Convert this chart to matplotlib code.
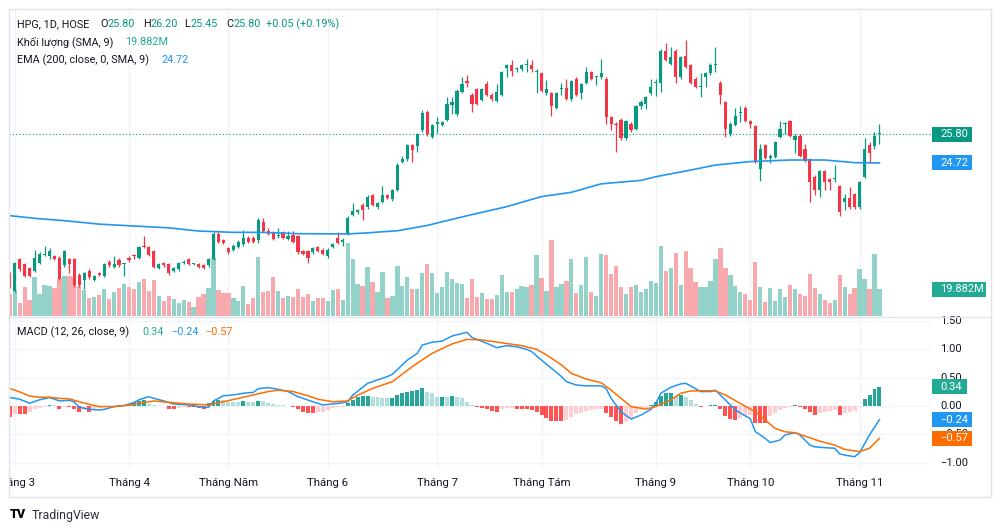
import numpy as np
import pandas as pd
import matplotlib
matplotlib.use("Agg")
import matplotlib.pyplot as plt
import matplotlib.transforms as mtransforms
from matplotlib.patches import Rectangle
from matplotlib.text import Annotation

plt.rcParams['font.family'] = ['Roboto', 'DejaVu Sans']

# ngày giao dịch HOSE 28/02 - 07/11/2023 (bỏ ngày nghỉ lễ)
holidays = ['2023-05-01', '2023-05-02', '2023-05-03', '2023-09-01', '2023-09-04']
dates = pd.bdate_range('2023-02-28', '2023-11-07').drop(pd.to_datetime(holidays))
month_labels = ['Tháng 3', 'Tháng 4', 'Tháng Năm', 'Tháng 6', 'Tháng 7',
                'Tháng Tám', 'Tháng 9', 'Tháng 10', 'Tháng 11']

# giá HPG (nghìn đồng)
opens = [20.55, 19.90, 21.10, 20.90, 20.75, 20.65, 20.95, 21.25, 21.20, 21.20,
         21.15, 20.85, 21.10, 21.10, 20.50, 20.30, 20.65, 20.30, 20.55, 20.45,
         21.00, 20.80, 21.05, 20.90, 21.15, 21.25, 21.15, 21.60, 21.55, 21.40,
         20.75, 20.95, 20.90, 20.65, 20.70, 20.95, 21.10, 20.90, 20.90, 20.85,
         20.85, 21.10, 22.05, 21.80, 21.50, 21.45, 21.55, 21.65, 21.90, 21.90,
         21.80, 22.50, 22.15, 22.10, 21.95, 22.10, 21.85, 22.00, 21.95, 21.40,
         21.40, 21.35, 21.55, 21.45, 21.20, 21.55, 21.90, 21.75, 22.05, 22.75,
         22.85, 23.15, 23.05, 23.50, 23.05, 23.25, 23.50, 23.35, 23.70, 24.75,
         24.85, 25.40, 25.35, 25.95, 26.65, 25.70, 26.20, 26.15, 26.35, 26.90,
         26.55, 27.40, 27.80, 27.30, 27.50, 27.10, 27.70, 27.30, 27.05, 27.30,
         28.30, 28.40, 28.25, 28.25, 28.40, 28.40, 28.15, 28.10, 27.35, 27.35,
         26.80, 27.50, 27.55, 27.15, 27.90, 27.35, 27.75, 28.15, 27.95, 27.95,
         27.90, 26.45, 26.20, 26.35, 25.65, 26.20, 26.00, 26.85, 26.95, 27.35,
         27.75, 27.75, 28.95, 28.45, 28.95, 27.95, 28.75, 28.40, 27.90, 27.60,
         27.95, 28.10, 28.40, 27.75, 27.00, 25.80, 26.15, 26.60, 26.80, 26.30,
         26.10, 24.50, 25.40, 24.90, 24.95, 25.70, 26.20, 26.30, 25.60, 25.75,
         25.25, 24.85, 24.20, 23.70, 24.40, 24.10, 24.10, 23.85, 23.25, 23.40,
         23.55, 23.05, 24.20, 25.40, 25.35, 25.80]
highs = [20.60, 21.00, 21.15, 20.95, 20.80, 21.45, 21.35, 21.60, 21.50, 21.25,
         21.20, 21.45, 21.15, 21.15, 20.55, 20.60, 20.70, 20.50, 20.60, 20.95,
         21.05, 21.20, 21.15, 20.95, 21.20, 21.30, 21.60, 21.95, 21.60, 21.45,
         20.95, 21.00, 20.95, 20.80, 21.00, 21.05, 21.15, 20.95, 20.95, 20.90,
         21.15, 22.10, 22.10, 21.85, 21.55, 21.65, 21.80, 22.20, 21.95, 21.95,
         22.65, 22.65, 22.25, 22.15, 22.25, 22.15, 22.15, 22.15, 22.00, 21.45,
         21.45, 21.55, 21.60, 21.50, 21.50, 21.70, 22.10, 21.90, 22.70, 23.20,
         23.00, 23.20, 23.50, 23.55, 23.25, 23.85, 23.55, 23.75, 24.70, 25.00,
         25.45, 25.45, 25.85, 26.70, 26.70, 26.20, 26.45, 26.30, 27.20, 27.20,
         27.50, 27.95, 28.05, 27.35, 27.55, 27.55, 27.80, 27.35, 27.70, 28.20,
         28.45, 28.60, 28.35, 28.45, 28.65, 28.60, 28.25, 28.15, 27.85, 27.40,
         27.40, 27.75, 27.90, 27.85, 27.95, 27.75, 28.35, 28.20, 28.00, 28.65,
         27.95, 26.50, 26.25, 26.40, 26.35, 26.25, 26.90, 27.10, 27.25, 27.90,
         27.90, 29.00, 29.25, 29.10, 29.00, 28.75, 29.35, 28.45, 27.95, 28.10,
         28.15, 28.50, 29.10, 27.80, 27.05, 26.25, 26.80, 26.85, 26.85, 26.35,
         26.15, 25.45, 25.45, 25.05, 25.55, 26.30, 26.25, 26.35, 25.80, 25.80,
         25.45, 24.90, 24.25, 24.45, 24.45, 24.15, 24.65, 23.90, 23.55, 23.80,
         23.60, 24.05, 25.65, 25.50, 25.90, 26.20]
lows = [20.00, 19.85, 20.65, 20.40, 20.40, 20.60, 20.90, 21.20, 21.10, 21.05,
        20.30, 20.80, 20.55, 20.05, 20.05, 19.95, 20.35, 20.25, 20.45, 20.40,
        20.80, 20.75, 20.80, 20.45, 21.00, 21.10, 21.10, 21.50, 21.20, 20.75,
        20.70, 20.80, 20.50, 20.60, 20.65, 20.90, 20.85, 20.85, 20.75, 20.70,
        20.80, 21.05, 21.70, 21.65, 21.30, 21.40, 21.50, 21.60, 21.70, 21.70,
        21.70, 22.10, 22.00, 21.80, 21.90, 21.85, 21.80, 21.70, 21.30, 21.25,
        20.95, 21.30, 21.35, 21.25, 21.15, 21.50, 21.65, 21.60, 22.00, 22.70,
        22.80, 22.55, 23.00, 23.10, 23.00, 23.20, 23.35, 23.30, 23.65, 24.70,
        24.80, 24.75, 25.15, 25.90, 25.75, 25.65, 25.85, 26.10, 26.30, 26.55,
        26.50, 27.35, 27.60, 26.65, 26.90, 27.05, 27.25, 27.05, 27.00, 27.25,
        27.95, 28.00, 28.15, 28.20, 28.15, 28.15, 27.35, 27.40, 27.30, 26.50,
        26.75, 27.30, 27.10, 27.05, 27.25, 27.15, 27.70, 27.85, 27.65, 27.90,
        26.20, 25.95, 25.15, 25.60, 25.60, 25.90, 25.95, 26.75, 26.75, 27.30,
        27.25, 27.40, 28.55, 28.40, 27.75, 27.90, 28.30, 27.70, 27.55, 27.20,
        27.60, 28.05, 28.15, 26.95, 25.70, 25.75, 26.10, 26.25, 26.25, 26.05,
        24.70, 24.05, 24.85, 24.70, 24.90, 25.65, 25.80, 25.70, 25.10, 24.95,
        24.75, 23.25, 23.50, 23.45, 23.70, 23.70, 24.00, 22.70, 22.95, 23.00,
        23.00, 23.00, 24.15, 24.75, 25.25, 25.45]
closes = [20.05, 20.95, 20.70, 20.45, 20.45, 21.15, 21.30, 21.30, 21.40, 21.10,
          20.35, 21.40, 20.90, 20.10, 20.10, 20.55, 20.40, 20.45, 20.50, 20.90,
          20.85, 20.90, 20.85, 20.90, 21.05, 21.20, 21.55, 21.55, 21.25, 20.80,
          20.90, 20.85, 20.55, 20.75, 20.95, 21.00, 20.90, 20.90, 20.80, 20.75,
          21.10, 22.05, 21.75, 21.70, 21.35, 21.60, 21.75, 21.90, 21.75, 21.75,
          22.55, 22.15, 22.05, 21.85, 21.95, 21.90, 21.95, 21.75, 21.35, 21.30,
          21.15, 21.50, 21.40, 21.30, 21.45, 21.65, 21.70, 21.80, 22.65, 22.90,
          22.95, 22.95, 23.45, 23.15, 23.20, 23.50, 23.40, 23.70, 24.65, 24.85,
          25.40, 25.20, 25.80, 26.60, 25.80, 26.15, 26.25, 26.25, 26.95, 27.00,
          27.45, 27.70, 27.75, 26.95, 26.95, 27.50, 27.30, 27.15, 27.40, 28.15,
          28.40, 28.20, 28.25, 28.40, 28.40, 28.25, 28.15, 27.45, 27.50, 26.85,
          27.35, 27.50, 27.15, 27.80, 27.30, 27.70, 28.15, 27.90, 27.95, 28.10,
          26.45, 26.20, 26.15, 25.65, 26.30, 25.95, 26.85, 27.00, 27.20, 27.60,
          27.75, 28.95, 28.60, 28.70, 27.95, 28.70, 28.35, 27.75, 27.60, 27.60,
          28.10, 28.40, 28.40, 27.30, 26.00, 26.20, 26.50, 26.60, 26.30, 26.20,
          24.75, 25.25, 24.90, 25.00, 25.50, 26.00, 26.20, 25.75, 25.75, 25.00,
          24.80, 24.00, 23.70, 24.40, 24.00, 24.00, 24.10, 22.85, 23.40, 23.05,
          23.05, 24.00, 25.25, 25.10, 25.75, 25.80]
# khối lượng (triệu cp)
volumes = [16.1, 19.4, 9.9, 21.4, 11.9, 29.3, 16.1, 23.1, 22.3, 20.9,
           28.1, 29.8, 29.8, 29.3, 22.3, 19.4, 13.2, 14.4, 15.6, 20.1,
           12.7, 18.1, 20.9, 23.8, 21.4, 20.1, 25.6, 27.6, 18.9, 26.6,
           14.6, 11.4, 14.6, 12.9, 9.9, 11.9, 10.4, 7.0, 13.9, 16.4,
           20.9, 43.0, 19.4, 16.9, 16.9, 13.2, 11.4, 22.3, 8.9, 13.7,
           44.2, 17.6, 18.6, 28.8, 18.6, 13.2, 15.1, 14.4, 20.1, 13.9,
           16.1, 11.2, 13.7, 13.7, 11.2, 19.4, 20.1, 11.9, 54.1, 42.2,
           23.8, 22.3, 36.3, 25.6, 17.6, 32.5, 13.7, 14.9, 37.5, 22.6,
           29.3, 20.1, 19.9, 31.8, 38.5, 32.3, 17.4, 21.9, 33.0, 27.6,
           24.8, 23.8, 13.2, 27.5, 14.3, 16.9, 12.7, 12.7, 15.6, 30.5,
           18.1, 17.6, 20.1, 22.6, 21.4, 22.8, 45.4, 28.1, 18.6, 56.9,
           21.6, 23.8, 26.1, 42.2, 17.1, 23.1, 43.9, 18.1, 15.1, 45.9,
           45.4, 31.0, 37.0, 21.6, 16.6, 21.6, 22.8, 18.1, 20.1, 25.8,
           24.3, 51.9, 33.5, 35.5, 46.7, 22.8, 48.4, 35.5, 25.3, 21.4,
           21.6, 26.3, 42.2, 50.4, 36.0, 30.5, 22.3, 17.9, 16.1, 11.9,
           40.2, 21.4, 10.4, 20.9, 11.4, 20.1, 14.4, 22.8, 20.1, 16.1,
           15.1, 31.0, 20.9, 16.6, 11.9, 9.9, 11.9, 30.5, 21.6, 16.1,
           20.9, 35.0, 27.6, 20.1, 46.2, 19.882]

# EMA 200 (chỉ số phiên, giá trị)
ema_bar = [0, 5, 11, 18, 25, 32, 38, 45, 51, 58, 68, 71, 78, 84, 87, 91, 93, 100,
           107, 113, 119, 127, 130, 137, 142, 149, 157, 164, 170, 175]
ema_val = [22.73, 22.63, 22.54, 22.41, 22.34, 22.27, 22.15, 22.10, 22.10, 22.05,
           22.04, 22.07, 22.16, 22.36, 22.50, 22.68, 22.77, 23.07, 23.45, 23.61,
           23.93, 24.06, 24.20, 24.45, 24.64, 24.77, 24.83, 24.83, 24.73, 24.72]

# MACD (12, 26, close, 9)
macd_bar = [0, 2, 4, 6, 8, 10, 12, 13, 14, 16, 18, 19, 21, 23, 25, 26, 28, 29, 31, 33,
            36, 38, 40, 41, 43, 45, 47, 49, 50, 52, 54, 56, 58, 61, 63, 66, 68, 69, 72, 74,
            76, 77, 80, 82, 83, 85, 87, 89, 92, 93, 96, 98, 100, 102, 104, 105, 107, 109,
            111, 112, 114, 116, 119, 120, 121, 123, 125, 127, 129, 130, 131, 133, 135, 136,
            137, 139, 141, 142, 144, 146, 148, 149, 150, 152, 153, 155, 156, 158, 159, 161,
            162, 164, 166, 167, 168, 170, 171, 173, 175]
macd_val = [0.15, 0.12, 0.05, 0.11, 0.15, 0.09, 0.10, 0.07, -0.02, -0.06,
            -0.07, -0.06, -0.01, 0.01, 0.06, 0.11, 0.165, 0.135, 0.09, 0.035,
            0.02, -0.01, -0.025, 0.09, 0.18, 0.195, 0.225, 0.24, 0.305, 0.325,
            0.295, 0.255, 0.165, 0.075, 0.02, 0.045, 0.075, 0.19, 0.40, 0.46,
            0.52, 0.56, 0.81, 0.93, 1.075, 1.125, 1.145, 1.235, 1.30, 1.21,
            1.105, 1.03, 1.065, 1.045, 1.0, 0.96, 0.81, 0.665, 0.52, 0.43,
            0.37, 0.355, 0.355, 0.31, 0.135, -0.10, -0.23, -0.16, -0.06, 0.045,
            0.225, 0.33, 0.39, 0.40, 0.355, 0.255, 0.255, 0.28, 0.105, -0.07,
            -0.175, -0.22, -0.45, -0.57, -0.645, -0.60, -0.51, -0.47, -0.51, -0.69,
            -0.72, -0.735, -0.745, -0.845, -0.865, -0.895, -0.825, -0.51, -0.24]
signal_bar = [0, 2, 4, 6, 8, 10, 12, 14, 16, 18, 21, 23, 26, 29, 32, 36, 40, 44, 46, 49,
              52, 54, 57, 60, 62, 65, 68, 70, 73, 77, 81, 85, 89, 92, 95, 99, 103, 106,
              108, 111, 113, 116, 119, 121, 123, 125, 128, 130, 133, 135, 137, 140, 142,
              144, 147, 150, 152, 154, 156, 158, 160, 163, 166, 168, 171, 173, 175]
signal_val = [0.31, 0.25, 0.175, 0.155, 0.155, 0.135, 0.125, 0.075, 0.03, -0.01,
              -0.01, 0.005, 0.045, 0.09, 0.065, 0.035, 0.02, 0.095, 0.135, 0.195,
              0.255, 0.28, 0.255, 0.18, 0.12, 0.075, 0.09, 0.19, 0.31, 0.43,
              0.695, 0.93, 1.095, 1.175, 1.165, 1.115, 1.065, 1.0, 0.90, 0.725,
              0.575, 0.475, 0.41, 0.28, 0.135, -0.01, -0.055, -0.01, 0.105, 0.225,
              0.265, 0.27, 0.265, 0.195, 0.045, -0.10, -0.245, -0.395, -0.455, -0.47,
              -0.53, -0.62, -0.69, -0.765, -0.805, -0.745, -0.57]
hist = [-0.19, -0.14, -0.14, -0.14, -0.10, -0.06, -0.03, -0.01, 0.02, 0.02,
        -0.05, -0.01, -0.02, -0.06, -0.11, -0.07, -0.10, -0.06, -0.03, -0.01,
        0.00, 0.00, 0.02, 0.02, 0.035, 0.075, 0.095, 0.105, 0.035, 0.01,
        0.00, 0.00, -0.045, -0.045, -0.035, -0.025, -0.025, -0.025, -0.035, -0.045,
        0.045, 0.095, 0.105, 0.105, 0.075, 0.075, 0.075, 0.095, 0.075, 0.075,
        0.095, 0.09, 0.045, 0.03, 0.025, 0.01, 0.005, -0.025, -0.06, -0.10,
        -0.12, -0.12, -0.11, -0.10, -0.07, -0.04, -0.025, -0.01, 0.06, 0.105,
        0.155, 0.175, 0.18, 0.165, 0.155, 0.15, 0.135, 0.15, 0.195, 0.225,
        0.255, 0.27, 0.28, 0.31, 0.255, 0.225, 0.16, 0.165, 0.165, 0.17,
        0.16, 0.135, 0.075, 0.015, -0.01, -0.03, -0.06, -0.08, -0.10, -0.06,
        -0.04, -0.03, -0.045, -0.05, -0.06, -0.07, -0.10, -0.16, -0.22, -0.265,
        -0.265, -0.27, -0.245, -0.19, -0.14, -0.12, -0.08, -0.07, -0.06, -0.045,
        -0.13, -0.19, -0.26, -0.32, -0.275, -0.22, -0.13, -0.06, -0.04, 0.02,
        0.075, 0.175, 0.225, 0.235, 0.175, 0.195, 0.155, 0.105, 0.035, -0.025,
        0.005, 0.012, 0.013, -0.06, -0.175, -0.235, -0.24, -0.22, -0.175, -0.16,
        -0.295, -0.295, -0.30, -0.175, -0.13, -0.07, -0.04, -0.025, 0.01, -0.025,
        -0.06, -0.10, -0.16, -0.12, -0.10, -0.08, -0.07, -0.16, -0.12, -0.10,
        -0.08, -0.025, 0.125, 0.195, 0.295, 0.34]

last_change = '+0.05 (+0.19%)'
vol_last = '19.882M'
ema_last = 24.72
macd_last, signal_last, hist_last = -0.24, -0.57, 0.34

assert len(opens) == len(highs) == len(lows) == len(closes) == len(volumes) == len(hist) == len(dates)

# màu kiểu TradingView
UP, DOWN = '#089981', '#F23645'
TXT = '#131722'
GRID = '#F0F3FA'
BORDER = '#E0E3EB'
BLUE, ORANGE = '#2196F3', '#FF6D00'

W, H = 1000, 530
fig = plt.figure(figsize=(W / 100, H / 100), dpi=100, facecolor='white')


def rect(x0, y0, x1, y1):
    return [x0 / W, 1 - y1 / H, (x1 - x0) / W, (y1 - y0) / H]


def minus(s):
    return s.replace('-', '\u2212')


x = np.arange(len(dates))
o, h, l, c = map(np.array, (opens, highs, lows, closes))
up = c >= o
col = np.where(up, UP, DOWN)
# phiên đầu tiên của mỗi tháng (Tháng 3 ... Tháng 11)
month_start = [k for k in range(1, len(dates)) if dates[k].month != dates[k - 1].month]
xlim = (-0.15, 185.37)

ax_vol = fig.add_axes(rect(9, 9, 931, 317))
ax = fig.add_axes(rect(9, 9, 931, 317))
ax.set_facecolor('none')
ax_m = fig.add_axes(rect(9, 317, 931, 469))
ax_t = fig.add_axes(rect(9, 469, 931, 497))

for a in (ax_vol, ax, ax_m, ax_t):
    a.set_xlim(*xlim)
    a.set_xticks([])
    a.set_yticks([])
    for s in a.spines.values():
        s.set_visible(False)

for k in month_start:
    ax_vol.axvline(k, color=GRID, lw=1, zorder=0)
    ax_m.axvline(k, color=GRID, lw=1, zorder=0)

# khối lượng
ax_vol.set_ylim(-0.745, 228.7)
vol_col = np.where(up, '#92D2C8', '#F8A9AE')
ax_vol.bar(x, volumes, width=0.86, color=vol_col, linewidth=0, zorder=1)

# nến
ax.set_ylim(18.906, 30.528)
ax.vlines(x, l, h, colors=col, lw=0.9, zorder=2)
ax.bar(x, np.maximum(np.abs(c - o), 0.035), bottom=np.minimum(o, c), width=0.64,
       color=col, linewidth=0, zorder=3)
ax.plot(ema_bar, ema_val, color=BLUE, lw=1.2, zorder=4)
ax.axhline(closes[-1], color=UP, lw=0.8, ls=(0, (1, 2)), zorder=1)

# MACD
ax_m.set_ylim(-1.111, 1.570)
for v in (-1.0, -0.5, 0.0, 0.5, 1.0, 1.5):
    ax_m.axhline(v, color=GRID, lw=1, zorder=0)
hist_col = []
for k, hv in enumerate(hist):
    prev = hist[k - 1] if k else hv + 1
    if hv >= 0:
        hist_col.append('#26A69A' if hv > prev else '#B2DFDB')
    else:
        hist_col.append('#FFCDD2' if hv > prev else '#FF5252')
ax_m.bar(x, hist, width=0.8, color=hist_col, linewidth=0, zorder=1)
ax_m.plot(macd_bar, macd_val, color=BLUE, lw=1.1, zorder=3)
ax_m.plot(signal_bar, signal_val, color=ORANGE, lw=1.1, zorder=3)

# trục thời gian
ax_t.set_ylim(0, 1)
for k, lab in zip(month_start, month_labels):
    ax_t.text(k, 0.5, lab, ha='center', va='center', fontsize=8.2, color=TXT,
              clip_on=True)


# thang bên phải
def side_text(a, v, s, color=TXT, z=3):
    tr = mtransforms.blended_transform_factory(fig.transFigure, a.transData)
    a.text(940 / W, v, s, transform=tr, ha='left', va='center', fontsize=8,
           color=color, clip_on=False, zorder=z)


def badge(a, v, s, color, x1):
    tr = mtransforms.blended_transform_factory(fig.transFigure, a.transData)
    y0, y1 = a.get_ylim()
    hh = 15 * (y1 - y0) / a.bbox.height
    a.add_patch(Rectangle((932 / W, v - hh / 2), (x1 - 932) / W, hh, transform=tr,
                          facecolor=color, edgecolor='none', clip_on=False, zorder=5))
    side_text(a, v, s, color='white', z=6)


for v in (1.5, 1.0, 0.5, 0.0, -0.5, -1.0):
    side_text(ax_m, v, minus(f'{v:.2f}'))

badge(ax, closes[-1], f'{closes[-1]:.2f}', UP, 972)
badge(ax, ema_last, f'{ema_last:.2f}', BLUE, 972)
badge(ax_vol, volumes[-1], vol_last, '#22AB94', 986)
badge(ax_m, hist_last, f'{hist_last:.2f}', '#22AB94', 967)
badge(ax_m, macd_last, minus(f'{macd_last:.2f}'), BLUE, 972)
badge(ax_m, signal_last, minus(f'{signal_last:.2f}'), ORANGE, 972)


# chú thích
def ftxt(xp, yp, s, color=TXT, size=7.8, **kw):
    return fig.text(xp / W, 1 - yp / H, s, color=color, ha='left', va='center',
                    fontsize=size, **kw)


def pair(xp, yp, key, val, vcol=UP):
    t = ftxt(xp, yp, key)
    fig.add_artist(Annotation(val, xy=(1, 0.5), xycoords=t, ha='left',
                              va='center', fontsize=7.8, color=vcol))


ftxt(17, 24, 'HPG, 1D, HOSE')
pair(100, 24, 'O', f'{opens[-1]:.2f}')
pair(142.7, 24, 'H', f'{highs[-1]:.2f}')
pair(184.3, 24, 'L', f'{lows[-1]:.2f}')
pair(226.7, 24, 'C', f'{closes[-1]:.2f}')
ftxt(265.7, 24, last_change, color=UP)
ftxt(17, 42, 'Khối lượng (SMA, 9)')
ftxt(125, 42, vol_last, color='#22AB94')
ftxt(17, 60, 'EMA (200, close, 0, SMA, 9)')
ftxt(162, 60, f'{ema_last:.2f}', color=BLUE)
ftxt(17, 332, 'MACD (12, 26, close, 9)')
ftxt(142.7, 332, f'{hist_last:.2f}', color='#22AB94')
ftxt(170.7, 332, minus(f'{macd_last:.2f}'), color=BLUE)
ftxt(205, 332, minus(f'{signal_last:.2f}'), color=ORANGE)

# khung
for (x0, y0, x1, y1) in [(9, 9, 991, 9), (9, 9, 9, 497), (991, 9, 991, 497),
                         (9, 497, 991, 497), (9, 317, 991, 317)]:
    fig.add_artist(plt.Line2D([x0 / W, x1 / W], [1 - y0 / H, 1 - y1 / H],
                              transform=fig.transFigure, color=BORDER, lw=1))

# logo
ftxt(10, 515, 'TV', color='#000000', size=9, fontweight='black')
ftxt(32, 515, 'TradingView', color='#2A2E39', size=8.8)

fig.savefig('out.png', dpi=100, facecolor='white')
